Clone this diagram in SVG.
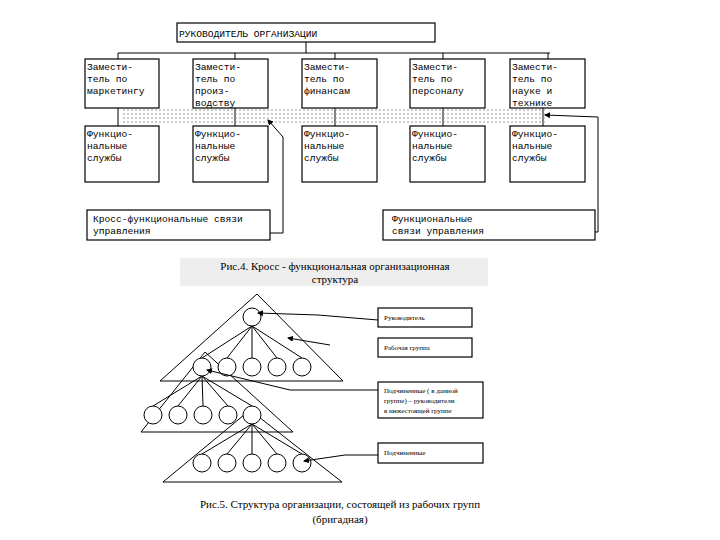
<svg xmlns="http://www.w3.org/2000/svg" width="720" height="540" viewBox="0 0 720 540">
<defs><marker id="a" markerWidth="6" markerHeight="6" refX="5" refY="3" orient="auto"><path d="M0,0L6,3L0,6z" fill="#000"/></marker></defs>
<style>
.b{fill:#fff;stroke:#000;stroke-width:1.2}
.l{fill:none;stroke:#000;stroke-width:1}
.t{font-family:"Liberation Mono",monospace;font-size:9.6px;fill:#000}
.s{font-family:"Liberation Serif",serif;font-size:7px;fill:#000}
.c{font-family:"Liberation Serif",serif;font-size:11px;fill:#000;text-anchor:middle}
.d{fill:none;stroke:#999;stroke-width:1.2;stroke-dasharray:2 2}
circle{fill:#fff;stroke:#000;stroke-width:1}
</style>
<rect width="720" height="540" fill="#fff"/>
<g id="connectors">
<path class="l" d="M306,42V53M118,53H550M118,53V59M235,53V59M335,53V59M443,53V59M548,53V59M118,108V126M235,108V126M335,108V126M443,108V126M543,108V126"/>
<path class="d" d="M123,110H547M123,114H547M123,118H547M123,122H547"/>
<path class="l" marker-end="url(#a)" d="M270,233H283V137L268,120"/>
<path class="l" marker-end="url(#a)" d="M595,232H598V117L545,115"/>
</g>
<g id="head"><rect class="b" x="177" y="23" width="258" height="19"/><text class="t" x="179" y="37" font-size="11">РУКОВОДИТЕЛЬ ОРГАНИЗАЦИИ</text></g>
<g id="dep1"><rect class="b" x="85" y="59" width="74" height="49"/><text class="t" x="87" y="70">Замести-<tspan x="87" dy="12">тель по</tspan><tspan x="87" dy="12">маркетингу</tspan></text></g>
<g id="dep2"><rect class="b" x="193" y="59" width="75" height="49"/><text class="t" x="195" y="70">Замести-<tspan x="195" dy="12">тель по</tspan><tspan x="195" dy="12">произ-</tspan><tspan x="195" dy="12">водству</tspan></text></g>
<g id="dep3"><rect class="b" x="302" y="59" width="75" height="49"/><text class="t" x="304" y="70">Замести-<tspan x="304" dy="12">тель по</tspan><tspan x="304" dy="12">финансам</tspan></text></g>
<g id="dep4"><rect class="b" x="410" y="59" width="75" height="49"/><text class="t" x="412" y="70">Замести-<tspan x="412" dy="12">тель по</tspan><tspan x="412" dy="12">персоналу</tspan></text></g>
<g id="dep5"><rect class="b" x="510" y="59" width="75" height="49"/><text class="t" x="512" y="70">Замести-<tspan x="512" dy="12">тель по</tspan><tspan x="512" dy="12">науке и</tspan><tspan x="512" dy="12">технике</tspan></text></g>
<g id="f1"><rect class="b" x="85" y="126" width="74" height="56"/><text class="t" x="87" y="137">Функцио-<tspan x="87" dy="12">нальные</tspan><tspan x="87" dy="12">службы</tspan></text></g>
<g id="f2"><rect class="b" x="193" y="126" width="75" height="56"/><text class="t" x="195" y="137">Функцио-<tspan x="195" dy="12">нальные</tspan><tspan x="195" dy="12">службы</tspan></text></g>
<g id="f3"><rect class="b" x="302" y="126" width="75" height="56"/><text class="t" x="304" y="137">Функцио-<tspan x="304" dy="12">нальные</tspan><tspan x="304" dy="12">службы</tspan></text></g>
<g id="f4"><rect class="b" x="410" y="126" width="75" height="56"/><text class="t" x="412" y="137">Функцио-<tspan x="412" dy="12">нальные</tspan><tspan x="412" dy="12">службы</tspan></text></g>
<g id="f5"><rect class="b" x="510" y="126" width="75" height="56"/><text class="t" x="512" y="137">Функцио-<tspan x="512" dy="12">нальные</tspan><tspan x="512" dy="12">службы</tspan></text></g>
<g id="cross"><rect class="b" x="87" y="210" width="183" height="30"/><text class="t" x="93" y="222" font-size="9.5">Кросс-функциональные связи<tspan x="93" dy="12">управления</tspan></text></g>
<g id="func"><rect class="b" x="383" y="210" width="212" height="30"/><text class="t" x="392" y="222" font-size="9.5">Функциональные<tspan x="392" dy="12">связи управления</tspan></text></g>
<rect x="180" y="258" width="308" height="28" fill="#eee"/>
<text class="c" x="335" y="270">Рис.4. Кросс - функциональная организационная<tspan x="335" dy="13">структура</tspan></text>
<g id="pyramid">
<path class="l" d="M257,294L160,381H343L257,294M205,352L141,432H293L205,352M250,410L163,482H342L250,410"/>
<path class="l" d="M252,326L202,358M252,326L227,358M252,326L252,358M252,326L277,358M252,326L302,358M202,376L153,406M202,376L178,406M202,376L203,406M202,376L228,406M202,376L252,406M252,424L202,454M252,424L227,454M252,424L252,454M252,424L277,454M252,424L302,454"/>
<circle cx="252" cy="317" r="9"/>
<circle cx="202" cy="367" r="9"/><circle cx="227" cy="367" r="9"/><circle cx="252" cy="367" r="9"/><circle cx="277" cy="367" r="9"/><circle cx="302" cy="367" r="9"/>
<circle cx="153" cy="415" r="9"/><circle cx="178" cy="415" r="9"/><circle cx="203" cy="415" r="9"/><circle cx="228" cy="415" r="9"/><circle cx="252" cy="415" r="9"/>
<circle cx="202" cy="463" r="9"/><circle cx="227" cy="463" r="9"/><circle cx="252" cy="463" r="9"/><circle cx="277" cy="463" r="9"/><circle cx="302" cy="463" r="9"/>
<path class="l" marker-end="url(#a)" d="M378,320L318,315L258,313"/>
<path class="l" marker-end="url(#a)" d="M330,345L288,338"/>
<path class="l" marker-end="url(#a)" d="M378,390H290L207,370"/>
<path class="l" marker-end="url(#a)" d="M378,455H345L304,461"/>
</g>
<g id="lb1"><rect class="b" x="378" y="308" width="94" height="19"/><text class="s" x="384" y="320">Руководитель</text></g>
<g id="lb2"><rect class="b" x="378" y="338" width="94" height="19"/><text class="s" x="384" y="350">Рабочая группа</text></g>
<g id="lb3"><rect class="b" x="378" y="382" width="105" height="36"/><text class="s" x="384" y="393">Подчиненные ( в данной<tspan x="384" dy="10">группе) – руководители</tspan><tspan x="384" dy="10">в нижестоящей группе</tspan></text></g>
<g id="lb4"><rect class="b" x="378" y="443" width="105" height="20"/><text class="s" x="384" y="455">Подчиненные</text></g>
<text class="c" x="340" y="508">Рис.5. Структура организации, состоящей из рабочих групп<tspan x="340" dy="15">(бригадная)</tspan></text>
</svg>
